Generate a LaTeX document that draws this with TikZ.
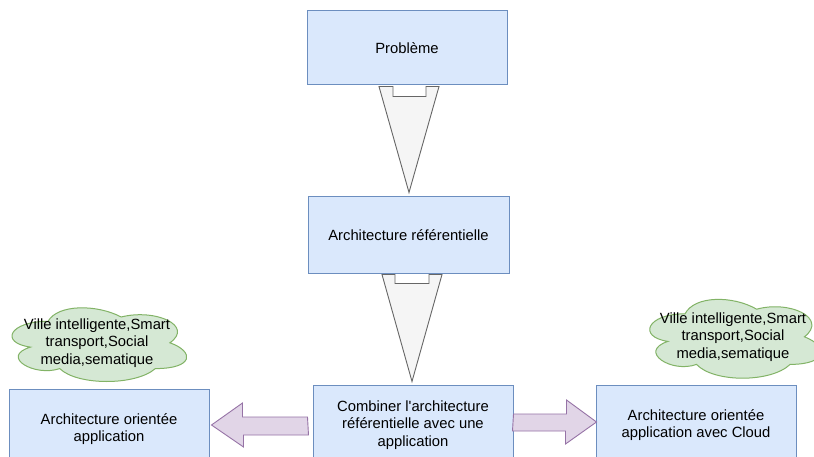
\documentclass[tikz,border=0pt]{standalone}
\usepackage{fontspec}
\setmainfont{Liberation Sans}[Ligatures=TeXOff]
\usetikzlibrary{calc,backgrounds}
\definecolor{bfill}{HTML}{DAE8FC}
\definecolor{bdraw}{HTML}{6C8EBF}
\definecolor{gfill}{HTML}{F5F5F5}
\definecolor{gdraw}{HTML}{666666}
\definecolor{pfill}{HTML}{E1D5E7}
\definecolor{pdraw}{HTML}{9673A6}
\definecolor{cfill}{HTML}{D5E8D4}
\definecolor{cdraw}{HTML}{82B366}
\tikzset{
  box/.style={draw=bdraw,fill=bfill,line width=1pt,minimum width=200pt,align=center,
    font=\fontsize{14.8}{17.5}\selectfont,inner sep=2pt},
  tri/.style={draw=gdraw,fill=gfill,line width=0.9pt,line join=miter},
  fat/.style={draw=pdraw,fill=pfill,line width=0.9pt},
  cloudtext/.style={align=center,font=\fontsize{14.8}{17.5}\selectfont,inner sep=0pt},
  cloudline/.style={draw=cdraw,fill=cfill,line width=1pt}
}
\begin{document}
\begin{tikzpicture}[x=1pt,y=-1pt]
\useasboundingbox (0,0) rectangle (814,457);
% boxes
\node[box,minimum height=74pt] (p) at (407,48) {Problème};
\node[box,minimum width=201pt,minimum height=76pt] (r) at (408.5,235) {Architecture référentielle};
\node[box,minimum height=80pt] (c) at (413,425) {Combiner l'architecture\\référentielle avec une\\application};
\node[box,minimum height=80pt] (l) at (109,429) {Architecture orientée\\application};
\node[box,minimum height=80pt] (rb) at (696,425) {Architecture orientée\\application avec Cloud};
% triangles
\draw[tri] ($(p.south)+(-28,1)$) -- ++(14,0) -- ++(0,10) -- ++(33,0) -- ++(0,-10) -- ++(13,0)
  -- ($(r.north)+(0.5,-4)$) -- cycle;
\draw[tri] ($(r.south)+(-26.5,1)$) -- ++(13,0) -- ++(0,9) -- ++(34,0) -- ++(0,-9) -- ++(13,0)
  -- ($(c.north)+(-1,-3)$) -- cycle;
% fat arrows
\draw[fat] ($(c.west)+(-5,-8)$) -- ++(-65,0) -- ++(0,-14) -- ($(l.east)+(2,-4)$)
  -- ++(32,22) -- ++(0,-12) -- ++(65,0) -- cycle;
\draw[fat] ($(c.east)+(0,-11)$) -- ++(53,0) -- ++(0,-14) -- ($(rb.west)+(1,-3)$)
  -- ++(-31,22) -- ++(0,-13) -- ++(-53,0) -- cycle;
% clouds
\node[cloudtext,minimum width=195pt,minimum height=86pt] (cl) at (97,343)
  {Ville intelligente,Smart\\transport,Social\\media,sematique};
\node[cloudtext,minimum width=191pt,minimum height=92pt] (cr) at (733,337)
  {Ville intelligente,Smart\\transport,Social\\media,sematique};
\begin{scope}[on background layer]
\fill[white] (0,0) rectangle (814,457);
\begin{scope}[shift={(cl.north west)},x=195pt,y=-86pt]
\draw[cloudline] (0.25,0.25) .. controls (0.05,0.25) and (0,0.5) .. (0.16,0.55)
 .. controls (0,0.66) and (0.18,0.9) .. (0.31,0.8)
 .. controls (0.4,1) and (0.7,1) .. (0.8,0.8)
 .. controls (1,0.8) and (1,0.6) .. (0.875,0.5)
 .. controls (1,0.3) and (0.8,0.1) .. (0.625,0.2)
 .. controls (0.5,0.05) and (0.3,0.05) .. (0.25,0.25) -- cycle;
\end{scope}
\begin{scope}[shift={(cr.north west)},x=191pt,y=-92pt]
\draw[cloudline] (0.25,0.25) .. controls (0.05,0.25) and (0,0.5) .. (0.16,0.55)
 .. controls (0,0.66) and (0.18,0.9) .. (0.31,0.8)
 .. controls (0.4,1) and (0.7,1) .. (0.8,0.8)
 .. controls (1,0.8) and (1,0.6) .. (0.875,0.5)
 .. controls (1,0.3) and (0.8,0.1) .. (0.625,0.2)
 .. controls (0.5,0.05) and (0.3,0.05) .. (0.25,0.25) -- cycle;
\end{scope}
\end{scope}
\end{tikzpicture}
\end{document}
